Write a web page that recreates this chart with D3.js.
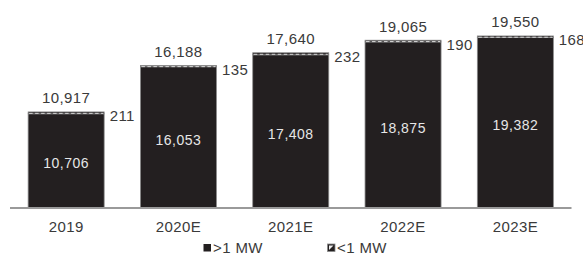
<!DOCTYPE html>
<html><head><meta charset="utf-8">
<script src="https://cdn.jsdelivr.net/npm/d3@7"></script>
<style>body{margin:0;background:#fff}svg{display:block}text{font-family:"Liberation Sans",Arial,sans-serif}</style>
</head><body><svg id="c" width="583" height="255"></svg>
<script>
const categories = ["2019","2020E","2021E","2022E","2023E"];
const large = [10706,16053,17408,18875,19382];   // >1 MW
const small = [211,135,232,190,168];             // <1 MW
const totals = [10917,16188,17640,19065,19550];
const legendLabels = [">1 MW","<1 MW"];

const svg = d3.select("#c");
const x = d3.scaleBand().domain(categories).range([10,571.5]).paddingInner(0.323).paddingOuter(0.1615);
const y = d3.scaleLinear().domain([0,20000]).range([208,32]);
const fmt = d3.format(",");
const dark = "#231f20", edge = "#8a8a8a", txt = "#3a3a3a";

const g = svg.append("g");
categories.forEach((c,i)=>{
  const x0 = x(c), w = x.bandwidth();
  // >1 MW
  g.append("rect").attr("x",x0).attr("y",y(large[i])).attr("width",w)
    .attr("height",y(0)-y(large[i])).attr("fill",dark).attr("stroke",edge).attr("stroke-width",0.8);
  // <1 MW
  const yt = y(totals[i]), yb = y(large[i]);
  g.append("rect").attr("x",x0).attr("y",yt).attr("width",w).attr("height",yb-yt)
    .attr("fill",dark).attr("stroke",edge).attr("stroke-width",0.8);
  g.append("line").attr("x1",x0+1).attr("x2",x0+w-1).attr("y1",(yt+yb)/2+0.5).attr("y2",(yt+yb)/2+0.5)
    .attr("stroke","#d8d8d8").attr("stroke-width",1).attr("stroke-dasharray","3.5,2.5");
  // labels
  g.append("text").attr("x",x0+w/2).attr("y",yt-8.5).attr("text-anchor","middle")
    .attr("font-size",15).attr("letter-spacing",0.4).attr("fill",txt).text(fmt(totals[i]));
  g.append("text").attr("x",x0+w+5.5).attr("y",yt+9.5)
    .attr("font-size",15).attr("letter-spacing",0.4).attr("fill",txt).text(fmt(small[i]));
  g.append("text").attr("x",x0+w/2).attr("y",(y(0)+yb)/2+2.7).attr("dy","0.35em").attr("text-anchor","middle")
    .attr("font-size",14).attr("letter-spacing",0.5).attr("fill","#e6e6e6").text(fmt(large[i]));
});

// axis
const ax = svg.append("g").attr("transform","translate(0,208)")
  .call(d3.axisBottom(x).tickSize(0).tickPadding(13));
ax.select(".domain").attr("stroke","#9a9a9a").attr("stroke-width",2).attr("d","M10,0H571.5");
ax.selectAll("text").attr("font-size",15).attr("letter-spacing",0.4).attr("fill",txt)
  .style("font-family",'"Liberation Sans",Arial,sans-serif');

// legend
const lg = svg.append("g");
lg.append("rect").attr("x",203.5).attr("y",244).attr("width",7.5).attr("height",7.5).attr("fill",dark);
lg.append("text").attr("x",213).attr("y",252.5).attr("font-size",15).attr("letter-spacing",0.4).attr("fill",txt).text(legendLabels[0]);
lg.append("rect").attr("x",327.5).attr("y",244).attr("width",7.5).attr("height",7.5).attr("fill",dark).attr("stroke",edge).attr("stroke-width",0.8);
lg.append("path").attr("d","M329,245.5H333.5L329,250Z").attr("fill","#eee");
lg.append("text").attr("x",337).attr("y",252.5).attr("font-size",15).attr("letter-spacing",0.4).attr("fill",txt).text(legendLabels[1]);
</script></body></html>
